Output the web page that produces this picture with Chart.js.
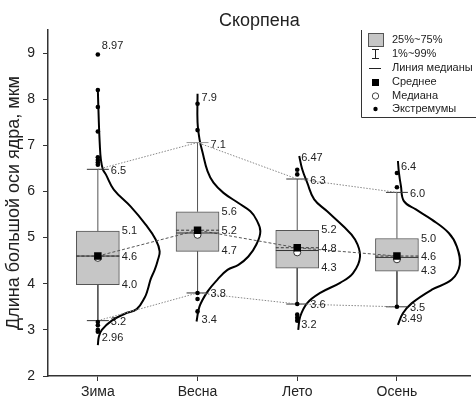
<!DOCTYPE html>
<html><head><meta charset="utf-8">
<script src="https://cdn.jsdelivr.net/npm/chart.js@4.4.0/dist/chart.umd.min.js"></script>
<style>html,body{margin:0;padding:0;background:#fff;}#wrap{width:476px;height:400px;}</style>
</head><body><div id="wrap"><canvas id="c" width="476" height="400"></canvas></div>
<script>
const categories = ['Зима', 'Весна', 'Лето', 'Осень'];
const yTicks = [2, 3, 4, 5, 6, 7, 8, 9];
const p1 = [3.2, 3.8, 3.56, 3.5];
const q1 = [3.98, 4.70, 4.34, 4.27];
const median = [4.6, 5.1, 4.72, 4.57];
const mean = [4.6, 5.16, 4.78, 4.6];
const q3 = [5.14, 5.56, 5.16, 4.98];
const p99 = [6.48, 7.06, 6.27, 5.98];
const maxVals = [8.97, 7.9, 6.47, 6.4];
const minVals = [2.96, 3.4, 3.2, 3.49];
const outliers = [
  [8.97, 8.2, 7.83, 7.3, 6.74, 6.68, 6.63, 6.58, 3.17, 3.1, 3.0, 2.96],
  [7.9, 7.33, 3.8, 3.67, 3.4],
  [6.47, 6.37, 3.56, 3.33, 3.26, 3.2],
  [6.4, 6.09, 3.5]
];
const curveValues = [
  [2.67, 2.85, 3.0, 3.2, 3.35, 3.45, 3.7, 3.87, 4.1, 4.3, 4.5, 4.7, 4.96, 5.28, 5.67, 6.04, 6.37, 6.48, 6.7, 7.0, 7.5, 8.2],
  [3.18, 3.51, 3.83, 4.09, 4.30, 4.41, 4.59, 4.85, 5.14, 5.39, 5.57, 5.75, 5.97, 6.19, 6.44, 6.85, 7.13, 7.5, 8.12],
  [3.0, 3.29, 3.58, 3.80, 4.02, 4.23, 4.59, 4.96, 5.25, 5.57, 5.83, 6.19, 6.48, 6.77],
  [3.11, 3.36, 3.58, 3.87, 4.09, 4.41, 4.81, 5.10, 5.39, 5.61, 5.79, 6.12, 6.41, 6.66]
];
const curveWidths = [
  [0, 0.01, 0.04, 0.14, 0.27, 0.39, 0.47, 0.50, 0.53, 0.57, 0.60, 0.62, 0.58, 0.48, 0.33, 0.16, 0.08, 0.05, 0.03, 0.02, 0.01, 0],
  [-0.01, 0.02, 0.10, 0.20, 0.30, 0.41, 0.51, 0.59, 0.63, 0.59, 0.53, 0.41, 0.26, 0.16, 0.10, 0.05, 0.02, 0, 0],
  [0.01, 0.03, 0.10, 0.23, 0.43, 0.56, 0.63, 0.58, 0.46, 0.30, 0.17, 0.10, 0.05, 0.02],
  [0.01, 0.06, 0.15, 0.35, 0.55, 0.63, 0.60, 0.52, 0.35, 0.19, 0.07, 0.04, 0.02, 0.01]
];
const legendItems = ['25%~75%', '1%~99%', 'Линия медианы', 'Среднее', 'Медиана', 'Экстремумы'];

// ---- styles ----
const FONT = '"Liberation Sans", Arial, sans-serif';
const BOX_HALF = 0.215;
const CAP_HALF = 0.11;
const maxLabelDy = [-8, -6, -12, -6];
const minLabelDy = [6, 9, 4, 12];
const capColors = ['#333', '#999', '#333', '#333'];

const pos = i => i + 1;
const segs = (vals, half) => {
  const out = [];
  vals.forEach((v, i) => {
    out.push({x: pos(i) - half, y: v}, {x: pos(i) + half, y: v}, {x: pos(i), y: null});
  });
  return out;
};
const whiskerData = [];
categories.forEach((c, i) => {
  whiskerData.push({x: pos(i), y: q3[i]}, {x: pos(i), y: p99[i]}, {x: pos(i), y: null});
  whiskerData.push({x: pos(i), y: q1[i]}, {x: pos(i), y: p1[i]}, {x: pos(i), y: null});
});
const outlierData = [];
outliers.forEach((arr, i) => arr.forEach(v => outlierData.push({x: pos(i), y: v})));

const lineBase = {type: 'line', pointRadius: 0, fill: false, spanGaps: false, tension: 0};
const datasets = [
  {type: 'line', showLine: false, data: mean.map((v, i) => ({x: pos(i), y: v})), pointStyle: 'rect', pointRadius: 5.3, backgroundColor: '#000', borderColor: '#000', borderWidth: 0, order: 1},
  {type: 'line', showLine: false, data: median.map((v, i) => ({x: pos(i), y: v - 0.04})), pointStyle: 'circle', pointRadius: 3.5, backgroundColor: '#fff', borderColor: '#333', borderWidth: 1, order: 2},
  {type: 'line', showLine: false, data: outlierData, pointStyle: 'circle', pointRadius: 2.3, backgroundColor: '#000', borderColor: '#000', borderWidth: 0, order: 3},
  Object.assign({}, lineBase, {data: segs(median, BOX_HALF), borderColor: '#333', borderWidth: 1, order: 4}),
  Object.assign({}, lineBase, {data: segs(mean, BOX_HALF), borderColor: '#333', borderWidth: 1, borderDash: [3, 2], order: 4}),
  Object.assign({}, lineBase, {data: mean.map((v, i) => ({x: pos(i), y: v})), borderColor: '#555', borderWidth: 1, borderDash: [3, 2], order: 5}),
  Object.assign({}, lineBase, {data: p99.map((v, i) => ({x: pos(i), y: v})), borderColor: '#888', borderWidth: 1, borderDash: [1.5, 1.5], order: 5}),
  Object.assign({}, lineBase, {data: p1.map((v, i) => ({x: pos(i), y: v})), borderColor: '#888', borderWidth: 1, borderDash: [1.5, 1.5], order: 5}),
  Object.assign({}, lineBase, {data: segs(p99, CAP_HALF), borderColor: '#333', borderWidth: 1, order: 6,
    segment: {borderColor: ctx => capColors[Math.floor(ctx.p0DataIndex / 3)]}}),
  Object.assign({}, lineBase, {data: segs(p1, CAP_HALF), borderColor: '#333', borderWidth: 1, order: 6}),
  Object.assign({}, lineBase, {data: whiskerData, borderColor: '#555', borderWidth: 1, order: 9}),
];
curveValues.forEach((ys, i) => {
  datasets.push(Object.assign({}, lineBase, {
    data: ys.map((v, k) => ({x: pos(i) + curveWidths[i][k], y: v})),
    borderColor: '#000', borderWidth: 2, tension: 0.4, order: 7
  }));
});
datasets.push({
  type: 'bar', data: categories.map((c, i) => ({x: pos(i), y: [q1[i], q3[i]]})),
  barThickness: 43, backgroundColor: '#c6c6c6', borderColor: '#555', borderWidth: 1, borderSkipped: false, order: 10
});

const labelPlugin = {
  id: 'labels',
  afterDatasetsDraw(chart) {
    const {ctx, scales: {x, y}, chartArea} = chart;
    ctx.save();
    ctx.fillStyle = '#222';
    ctx.font = '11px ' + FONT;
    ctx.textBaseline = 'middle';
    ctx.textAlign = 'left';
    const px = i => x.getPixelForValue(pos(i));
    categories.forEach((c, i) => {
      ctx.fillText(String(maxVals[i]), px(i) + 4, y.getPixelForValue(maxVals[i]) + maxLabelDy[i]);
      ctx.fillText(String(minVals[i]), px(i) + 4, y.getPixelForValue(minVals[i]) + minLabelDy[i]);
      ctx.fillText(p99[i].toFixed(1), px(i) + 13, y.getPixelForValue(p99[i]) + 2);
      ctx.fillText(p1[i].toFixed(1), px(i) + 13, y.getPixelForValue(p1[i]) + 1);
      ctx.fillText(q3[i].toFixed(1), px(i) + 24, y.getPixelForValue(q3[i]));
      ctx.fillText(mean[i].toFixed(1), px(i) + 24, y.getPixelForValue(mean[i]) + 1);
      ctx.fillText(q1[i].toFixed(1), px(i) + 24, y.getPixelForValue(q1[i]));
    });
    // title
    ctx.font = '18px ' + FONT;
    ctx.textAlign = 'center';
    ctx.fillText('Скорпена', (chartArea.left + chartArea.right) / 2, 21);
    // legend
    const L = 361, T = 30, B = 117;
    ctx.strokeStyle = '#333';
    ctx.lineWidth = 1;
    ctx.beginPath();
    ctx.moveTo(L + 0.5, T); ctx.lineTo(L + 0.5, B + 0.5); ctx.lineTo(476, B + 0.5);
    ctx.stroke();
    const rows = [40, 54, 68, 82, 96, 109];
    ctx.font = '11px ' + FONT;
    ctx.textAlign = 'left';
    legendItems.forEach((t, k) => ctx.fillText(t, 392, rows[k]));
    // symbols
    ctx.fillStyle = '#c6c6c6'; ctx.strokeStyle = '#555';
    ctx.fillRect(368, 33, 15, 13); ctx.strokeRect(368.5, 33.5, 15, 13);
    ctx.strokeStyle = '#222';
    ctx.beginPath();
    ctx.moveTo(375.5, 49); ctx.lineTo(375.5, 59);
    ctx.moveTo(372, 49.5); ctx.lineTo(379, 49.5);
    ctx.moveTo(372, 58.5); ctx.lineTo(379, 58.5);
    ctx.moveTo(369, 68.5); ctx.lineTo(381, 68.5);
    ctx.stroke();
    ctx.fillStyle = '#000';
    ctx.fillRect(372, 79, 7, 7);
    ctx.beginPath(); ctx.arc(375.5, 96, 3.2, 0, Math.PI * 2); ctx.strokeStyle = '#444'; ctx.stroke();
    ctx.beginPath(); ctx.arc(375.5, 109, 2.2, 0, Math.PI * 2); ctx.fill();
    ctx.restore();
  }
};

new Chart(document.getElementById('c'), {
  type: 'line',
  data: {datasets},
  options: {
    responsive: false, animation: false, devicePixelRatio: 1,
    layout: {padding: {top: 30, right: 0, bottom: 0, left: 0}},
    plugins: {legend: {display: false}, tooltip: {enabled: false}, title: {display: false}},
    scales: {
      x: {
        type: 'linear', min: 0.5, max: 4.74, offset: false,
        afterBuildTicks: s => { s.ticks = categories.map((c, i) => ({value: pos(i)})); },
        afterFit: s => { s.height = 24; },
        ticks: {autoSkip: false, maxRotation: 0, padding: 3, color: '#222', font: {size: 14, family: FONT},
          callback: v => categories[Math.round(v) - 1] || ''},
        grid: {drawOnChartArea: false, drawTicks: true, tickLength: 5, color: '#333', offset: false},
        border: {color: '#333', width: 1.5}
      },
      y: {
        type: 'linear', min: 2, max: 9.5,
        afterBuildTicks: s => { s.ticks = yTicks.map(v => ({value: v})); },
        afterFit: s => { s.width = 48; },
        ticks: {padding: 8, color: '#222', font: {size: 14, family: FONT}},
        grid: {drawOnChartArea: false, drawTicks: true, tickLength: 5, color: '#333'},
        border: {color: '#333', width: 1.5},
        title: {display: true, text: 'Длина большой оси ядра, мкм', color: '#222', font: {size: 18, family: FONT}, padding: {top: 3, bottom: 0}}
      }
    }
  },
  plugins: [labelPlugin]
});
</script></body></html>
